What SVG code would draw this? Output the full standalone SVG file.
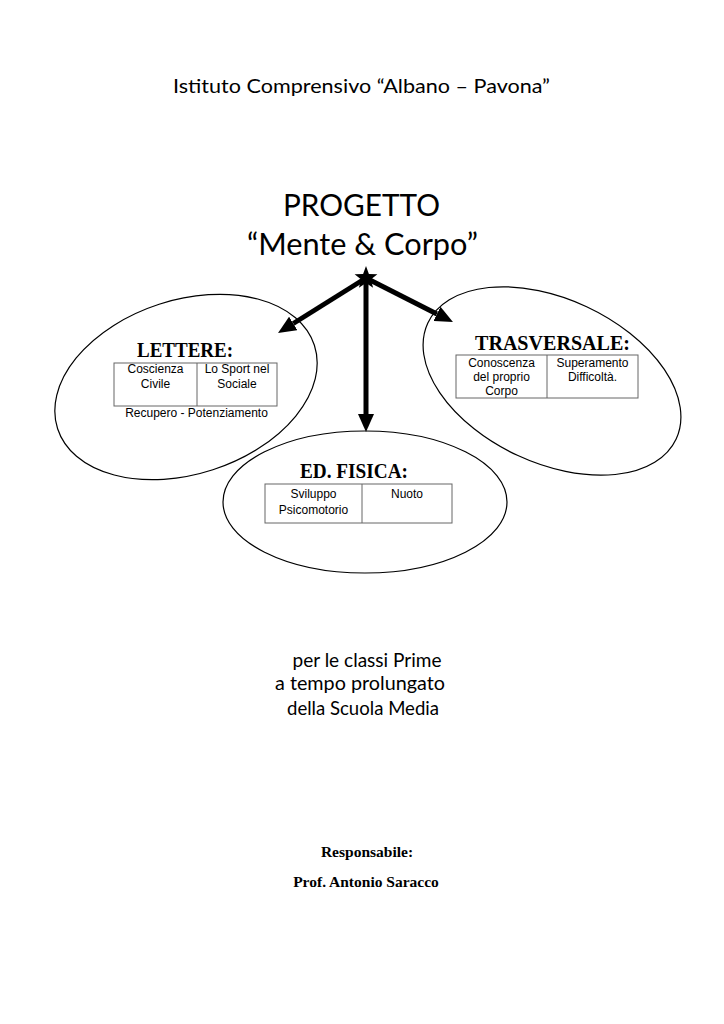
<svg xmlns="http://www.w3.org/2000/svg" width="724" height="1024" viewBox="0 0 724 1024">
<style>
.hand{font-family:"Lato","Open Sans",sans-serif;fill:#000;text-anchor:middle}
.head{font-family:"Liberation Serif","DejaVu Serif",serif;font-weight:bold;font-size:20px;fill:#000;text-anchor:middle}
.cell{font-family:"Liberation Sans",Arial,sans-serif;font-size:12px;fill:#000;text-anchor:middle}
.resp{font-family:"Liberation Serif","Times New Roman",serif;font-weight:bold;font-size:15.5px;fill:#000;text-anchor:middle}
.ell{fill:none;stroke:#000;stroke-width:1.2}
.tbl{fill:none;stroke:#666;stroke-width:1}
.conn{stroke:#000;stroke-width:5;fill:none}
</style>
<defs>
<marker id="ah" markerUnits="userSpaceOnUse" markerWidth="18" markerHeight="16" viewBox="0 0 18 16" refX="0" refY="8" orient="auto">
<path d="M0,0 L18,8 L0,16 z" fill="#000"/>
</marker>
</defs>
<rect x="0" y="0" width="724" height="1024" fill="#fff"/>

<g id="title">
<text class="hand" x="361.5" y="93" font-size="20" textLength="377" lengthAdjust="spacingAndGlyphs">Istituto Comprensivo “Albano – Pavona”</text>
</g>

<g id="progetto">
<text class="hand" x="361.5" y="216" font-size="30" textLength="157" lengthAdjust="spacingAndGlyphs">PROGETTO</text>
<text class="hand" x="362.5" y="255" font-size="30" textLength="231" lengthAdjust="spacingAndGlyphs">“Mente &amp; Corpo”</text>
</g>

<g id="lettere">
<ellipse class="ell" cx="186" cy="387" rx="135" ry="87" transform="rotate(-18 186 387)"/>
<text class="head" x="185" y="357" textLength="96" lengthAdjust="spacingAndGlyphs">LETTERE:</text>
<rect class="tbl" x="114" y="363" width="163" height="43"/>
<line class="tbl" x1="197" y1="363" x2="197" y2="406"/>
<text class="cell" x="155.5" y="373">Coscienza</text>
<text class="cell" x="155.5" y="388">Civile</text>
<text class="cell" x="237" y="373">Lo Sport nel</text>
<text class="cell" x="237" y="388">Sociale</text>
<text class="cell" x="196.5" y="417">Recupero - Potenziamento</text>
</g>

<g id="trasversale">
<ellipse class="ell" cx="552" cy="381" rx="137" ry="82" transform="rotate(25 552 381)"/>
<text class="head" x="552.5" y="350" textLength="155" lengthAdjust="spacingAndGlyphs">TRASVERSALE:</text>
<rect class="tbl" x="456" y="355" width="182" height="43"/>
<line class="tbl" x1="547" y1="355" x2="547" y2="398"/>
<text class="cell" x="501.5" y="367">Conoscenza</text>
<text class="cell" x="501.5" y="381">del proprio</text>
<text class="cell" x="501.5" y="395">Corpo</text>
<text class="cell" x="592.5" y="367">Superamento</text>
<text class="cell" x="592.5" y="381">Difficoltà.</text>
</g>

<g id="edfisica">
<ellipse class="ell" cx="365" cy="502" rx="142" ry="71"/>
<text class="head" x="354" y="478" textLength="108" lengthAdjust="spacingAndGlyphs">ED. FISICA:</text>
<rect class="tbl" x="265" y="484" width="187" height="39"/>
<line class="tbl" x1="362" y1="484" x2="362" y2="523"/>
<text class="cell" x="313.5" y="498">Sviluppo</text>
<text class="cell" x="313.5" y="514">Psicomotorio</text>
<text class="cell" x="407" y="498">Nuoto</text>
</g>

<g id="connectors">
<line class="conn" x1="366" y1="278" x2="293.3" y2="323.5" marker-end="url(#ah)"/>
<line class="conn" x1="366" y1="278" x2="436.9" y2="313.9" marker-end="url(#ah)"/>
<line class="conn" x1="366" y1="278" x2="366" y2="414" marker-end="url(#ah)"/>
</g>

<g id="hub">
<polygon points="366,266 368.9,274 377.4,274.3 370.8,279.5 373.1,287.7 366,283 358.9,287.7 361.2,279.5 354.6,274.3 363.1,274" fill="#000"/>
</g>

<g id="classi">
<text class="hand" x="367" y="667" font-size="19" textLength="149" lengthAdjust="spacingAndGlyphs">per le classi Prime</text>
<text class="hand" x="360" y="690" font-size="19" textLength="170" lengthAdjust="spacingAndGlyphs">a tempo prolungato</text>
<text class="hand" x="363" y="715" font-size="19" textLength="152" lengthAdjust="spacingAndGlyphs">della Scuola Media</text>
</g>

<g id="responsabile">
<text class="resp" x="367" y="857">Responsabile:</text>
<text class="resp" x="366" y="887">Prof. Antonio Saracco</text>
</g>
</svg>
